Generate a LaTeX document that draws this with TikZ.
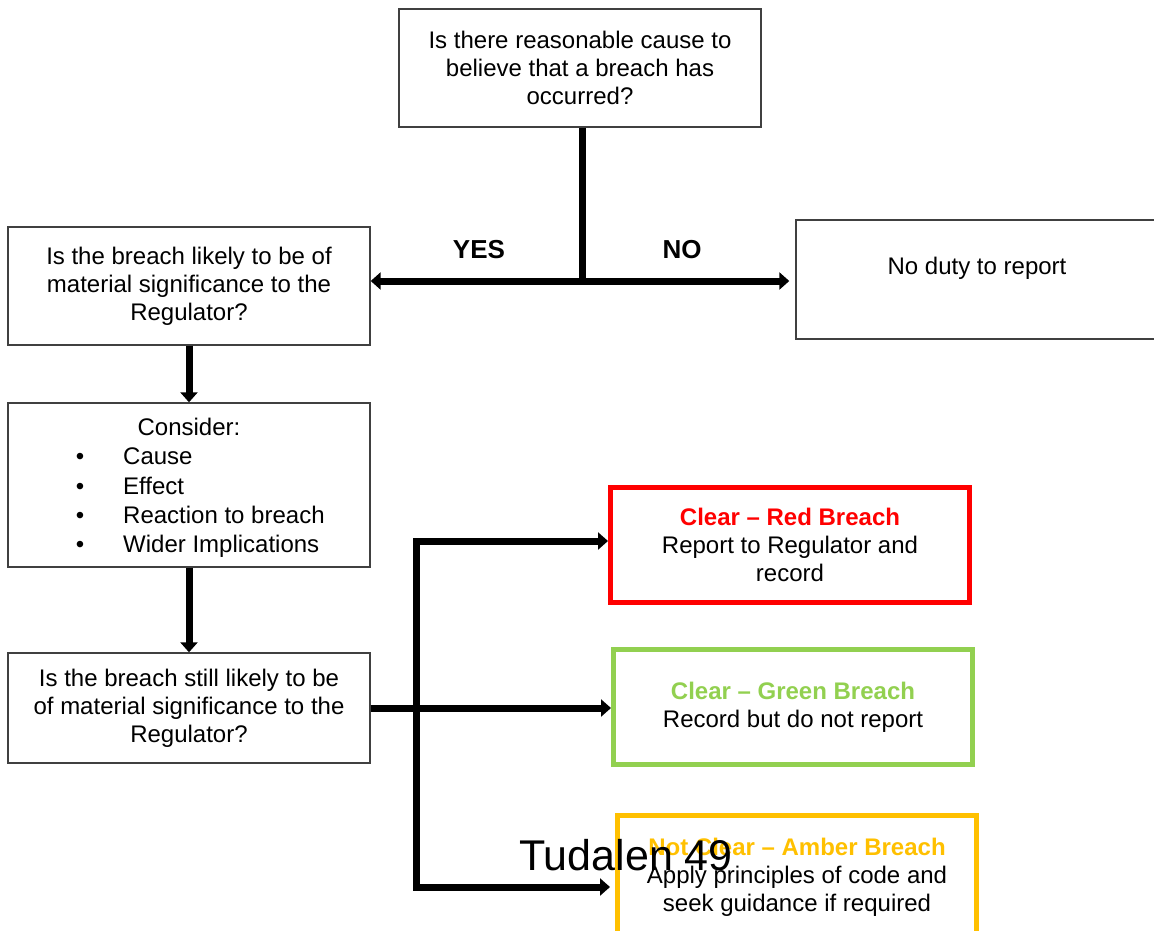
\documentclass[tikz,border=0pt]{standalone}
\usepackage{fontspec}
\setmainfont{Liberation Sans}
\usetikzlibrary{arrows.meta}
\definecolor{breachred}{HTML}{FF0000}
\definecolor{breachgreen}{HTML}{92D050}
\definecolor{breachamber}{HTML}{FFC000}
\definecolor{boxline}{HTML}{404040}

\begin{document}
\begin{tikzpicture}[x=1pt,y=-1pt,
    box/.style={draw=boxline, line width=1.4pt, align=center, minimum width=362pt, minimum height=118pt},
    outcome/.style={line width=5pt, align=center, minimum width=359pt, minimum height=115pt},
    conn/.style={line width=7pt, line join=miter},
    tip/.style={-{Triangle[length=10pt,width=17pt]}}]
                      \tikzstyle{every node}+=[inner sep=0pt, font=\fontsize{24}{28}\selectfont]
                      \useasboundingbox (0,0) rectangle (1154,930);
                      % questions down the left side
                      \node [box] (cause) at (580,68) {Is there reasonable cause to\\believe that a breach has\\occurred?};
                      \node [box] (signif) at (189,286) {Is the breach likely to be of\\material significance to the\\Regulator?};
                      \node [box, minimum height=164pt] (consider) at (189,485) {};
                      \node [box, minimum height=110pt] (still) at (189,708) {Is the breach still likely to be\\of material significance to the\\Regulator?};
                      \node [box, minimum height=119pt, text height=19pt, text depth=30pt] (noduty) at (977,279.5) {No duty to report};
                      % contents of the consider box
                      \node [anchor=base] (conhead) at (189,435) {Consider:};
                      \foreach \y/\t in {464/Cause, 494/Effect, 523/Reaction to breach, 552/Wider Implications} {
                        \node [anchor=base] (dot\y) at (80,\y) {•};
                        \node [anchor=base west] (item\y) at (123,\y) {\t};
                      }
                      % outcomes
                      \node [outcome, draw=breachred] (red) at (790,545) {\textbf{\color{breachred}Clear – Red Breach}\\Report to Regulator and\\record};
                      \node [outcome, draw=breachgreen] (green) at (793,707) {\textbf{\color{breachgreen}Clear – Green Breach}\\Record but do not report};
                      \node [outcome, draw=breachamber, minimum height=123pt] (amber) at (797,877) {\textbf{\color{breachamber}Not Clear – Amber Breach}\\Apply principles of code and\\seek guidance if required};
                      % connectors
                      \coordinate (split) at (582,281);
                      \coordinate (bustop) at (416,541);
                      \coordinate (busbot) at (416,887);
                      \draw [conn] (cause.south -| split) -- (split);
                      \draw [conn, {Triangle[length=10pt,width=17pt]}-{Triangle[length=10pt,width=17pt]}, shorten >=6pt] (split -| signif.east) -- (split -| noduty.west);
                      \draw [conn, tip] (signif.south) -- (consider.north);
                      \draw [conn, tip] (consider.south) -- (still.north);
                      \draw [conn, tip] (still.east) -- (still.east -| green.west);
                      \draw [conn, {Triangle[length=10pt,width=17pt]}-{Triangle[length=10pt,width=17pt]}, shorten >=5pt] (bustop -| red.west) -- (bustop) -- (busbot) -- (busbot -| amber.west);
                      \node [anchor=base, font=\fontsize{26}{30}\selectfont\bfseries] (yes) at (479,258) {YES};
                      \node [anchor=base, font=\fontsize{26}{30}\selectfont\bfseries] (no) at (682,258) {NO};
                      \node [anchor=base, font=\fontsize{43}{50}\selectfont] (page) at (626,870) {Tudalen 49};
                  \end{tikzpicture}
\end{document}
